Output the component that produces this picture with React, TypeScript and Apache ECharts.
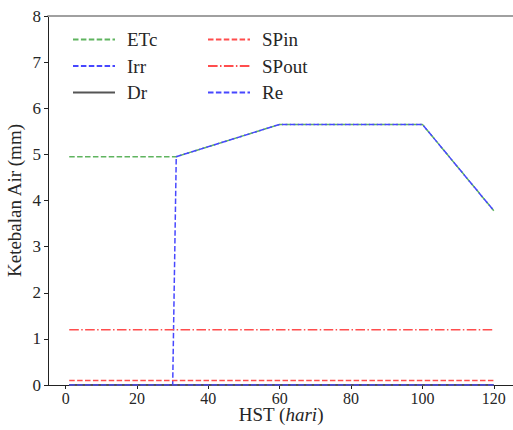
import React, { useEffect, useRef } from "react";
import * as echarts from "echarts";

const xTicks = [0, 20, 40, 60, 80, 100, 120];

const etcDays = [1, 31, 60, 100, 120];
const etcValues = [4.95, 4.95, 5.65, 5.65, 3.78];

const irrDays = [1, 30, 31, 60, 100, 120];
const irrValues = [0, 0, 4.95, 5.65, 5.65, 3.78];

const drDays = [1, 120];
const drValues = [0, 0];

const spinDays = [1, 120];
const spinValues = [0.1, 0.1];

const spoutDays = [1, 120];
const spoutValues = [1.2, 1.2];

const reDays = [1, 120];
const reValues = [0, 0];

const zip = (xs: number[], ys: number[]) => xs.map((x, i) => [x, ys[i]]);

const FONT = "'Liberation Serif', 'DejaVu Serif', serif";
const TXT = "#262626";
const GREEN = "#5fb45f";
const BLUE = "#4747ff";
const RED = "#ff4d4d";
const GRAY = "#555555";
const DASH = [5.5, 2.4];
const DASHDOT = [9.6, 2.4, 1.5, 2.4];

export default function App() {
  const ref = useRef<HTMLDivElement>(null);
  useEffect(() => {
    if (!ref.current) return;
    const chart = echarts.init(ref.current, undefined, { renderer: "svg" });
    const mk = (name: string, d: number[][], color: string, type: any, width = 1.5) => ({
      name,
      type: "line",
      data: d,
      symbol: "none",
      showSymbol: false,
      clip: true,
      lineStyle: { color, type, width },
      itemStyle: { color },
      emphasis: { disabled: true },
    });
    const legendCommon = {
      orient: "vertical",
      top: 25,
      itemWidth: 42,
      itemHeight: 14,
      itemGap: 7.5,
      itemStyle: { opacity: 0 },
      textStyle: { fontFamily: FONT, fontSize: 19, color: TXT, padding: [0, 0, 0, 7] },
      selectedMode: false,
    };
    chart.setOption({
      animation: false,
      grid: { left: 48, top: 16, width: 467, height: 369, containLabel: false, outerBoundsMode: "none" },
      legend: [
        { ...legendCommon, left: 67, data: ["ETc", "Irr", "Dr"] },
        { ...legendCommon, left: 202, data: ["SPin", "SPout", "Re"] },
      ],
      graphic: [
        {
          type: "text",
          x: 281,
          y: 414,
          style: {
            text: "{n|HST (}{i|hari}{n|)}",
            align: "center",
            verticalAlign: "middle",
            rich: {
              n: { fontFamily: FONT, fontSize: 19, fill: TXT, color: TXT },
              i: { fontFamily: FONT, fontSize: 19, fill: TXT, color: TXT, fontStyle: "italic" },
            },
          },
        },
      ],
      xAxis: [
        {
          type: "value",
          min: -4.95,
          max: 125.95,
          axisLine: { show: true, onZero: false, lineStyle: { color: "#222", width: 1 } },
          axisTick: { show: true, length: 4, inside: false, customValues: xTicks, lineStyle: { color: "#222" } },
          axisLabel: { customValues: xTicks, fontFamily: FONT, fontSize: 16, color: TXT, margin: 5 },
          splitLine: { show: false },
        },
        {
          type: "value",
          position: "top",
          min: -4.95,
          max: 125.95,
          axisLine: { show: true, onZero: false, lineStyle: { color: "#a0a0a0", width: 1.8 } },
          axisTick: { show: false },
          axisLabel: { show: false },
          splitLine: { show: false },
        },
      ],
      yAxis: {
        type: "value",
        min: 0,
        max: 8,
        interval: 1,
        name: "Ketebalan Air (mm)",
        nameLocation: "middle",
        nameGap: 24,
        nameMoveOverlap: false,
        nameTextStyle: { fontFamily: FONT, fontSize: 19, color: TXT },
        axisLine: { show: true, onZero: false, lineStyle: { color: "#222", width: 1 } },
        axisTick: { show: true, length: 4, lineStyle: { color: "#222" } },
        axisLabel: { fontFamily: FONT, fontSize: 17, color: TXT, margin: 7 },
        splitLine: { show: false },
      },
      series: [
        mk("ETc", zip(etcDays, etcValues), GREEN, DASH),
        mk("Irr", zip(irrDays, irrValues), BLUE, DASH),
        mk("Dr", zip(drDays, drValues), GRAY, "solid", 2),
        mk("SPin", zip(spinDays, spinValues), RED, DASH),
        mk("SPout", zip(spoutDays, spoutValues), RED, DASHDOT),
        mk("Re", zip(reDays, reValues), BLUE, DASH),
      ],
    });
    return () => chart.dispose();
  }, []);
  return (
    <div
      ref={ref}
      style={{ position: "fixed", left: 0, top: 0, width: 513, height: 430, background: "#fff" }}
    />
  );
}
